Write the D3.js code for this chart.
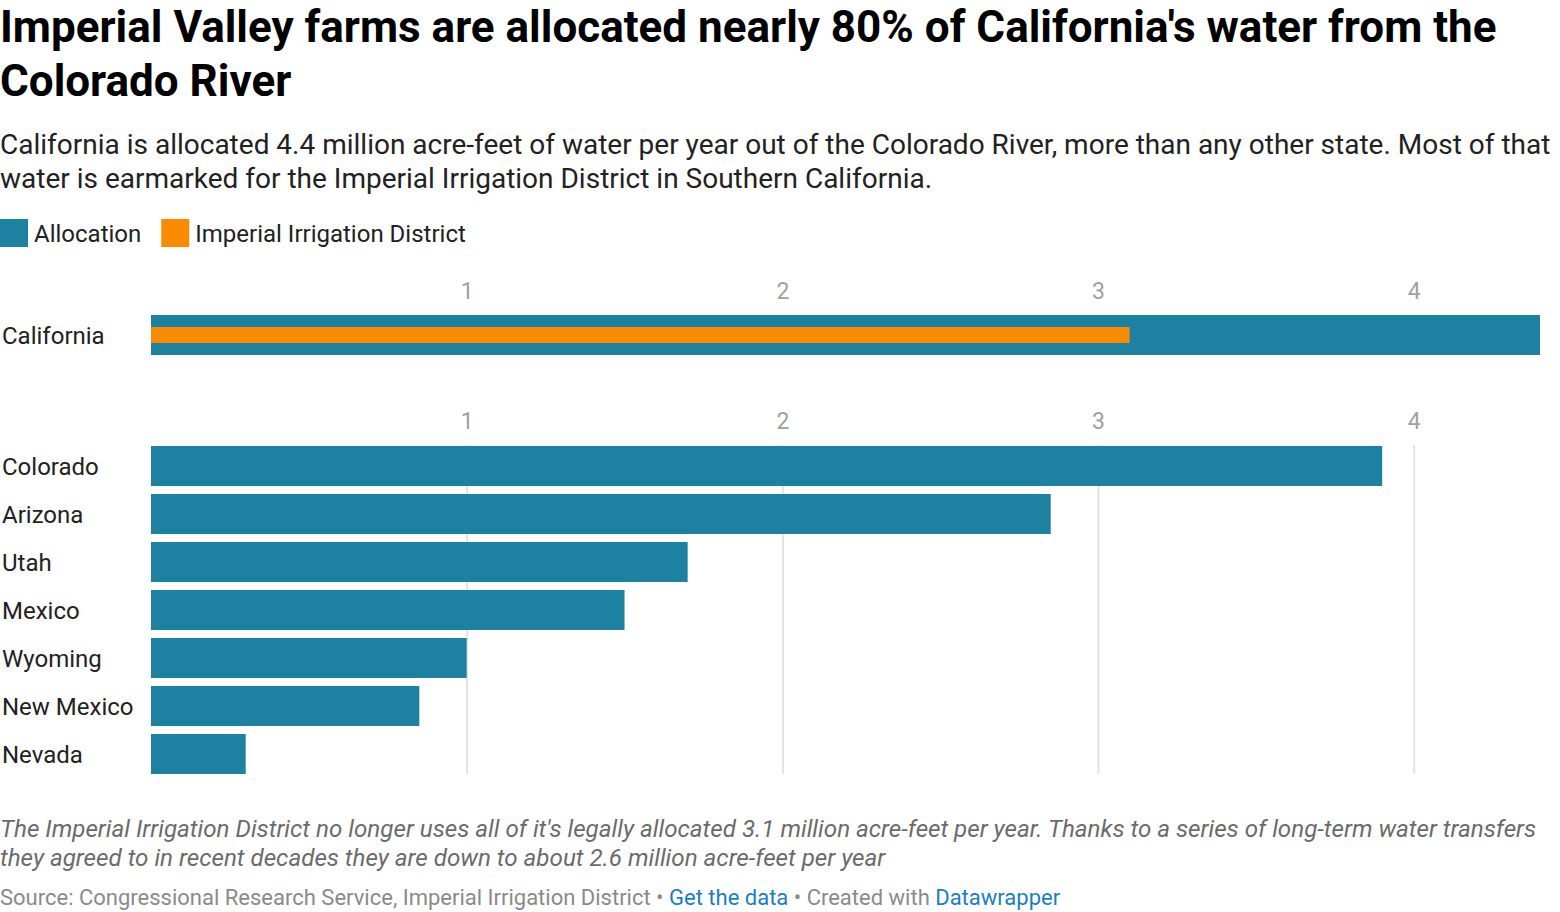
<!DOCTYPE html>
<html>
<head>
<meta charset="utf-8">
<script src="https://cdn.jsdelivr.net/npm/d3@7"></script>
<style>
  body { margin: 0; background: #fff; }
  svg { display: block; font-family: Roboto, "Noto Sans", sans-serif; }
</style>
</head>
<body>
<svg id="chart" width="1560" height="912"></svg>
<script>
// data (million acre-feet per year)
const topCategories = ["California"];
const topAllocation = [4.4];
const topIID = [3.1];

const categories = ["Colorado", "Arizona", "Utah", "Mexico", "Wyoming", "New Mexico", "Nevada"];
const allocation = [3.9, 2.85, 1.7, 1.5, 1.0, 0.85, 0.3];

const tickValues = [1, 2, 3, 4];
const legendLabels = ["Allocation", "Imperial Irrigation District"];

const titleLines = [
  "Imperial Valley farms are allocated nearly 80% of California's water from the",
  "Colorado River"
];
const subtitleLines = [
  "California is allocated 4.4 million acre-feet of water per year out of the Colorado River, more than any other state. Most of that",
  "water is earmarked for the Imperial Irrigation District in Southern California."
];
const noteLines = [
  "The Imperial Irrigation District no longer uses all of it's legally allocated 3.1 million acre-feet per year. Thanks to a series of long-term water transfers",
  "they agreed to in recent decades they are down to about 2.6 million acre-feet per year"
];

const teal = "#1d81a2", orange = "#f98b00";

document.addEventListener('DOMContentLoaded', () => {
  const svg = d3.select("#chart");

  // header
  svg.append("g").selectAll("text")
     .data(titleLines)
    .enter().append("text")
     .attr("x", 0)
     .attr("y", (d, i) => 42 + i * 54)
     .attr("font-size", 44)
     .attr("font-weight", 700)
     .attr("fill", "#000")
     .text(d => d);

  svg.append("g").selectAll("text")
     .data(subtitleLines)
    .enter().append("text")
     .attr("x", 0)
     .attr("y", (d, i) => 154 + i * 34)
     .attr("font-size", 28)
     .attr("fill", "#222")
     .text(d => d);

  // legend
  let lx = 0;
  legendLabels.forEach((lab, i) => {
    const g = svg.append("g").attr("transform", `translate(${lx},219)`);
    g.append("rect").attr("width", 28).attr("height", 28).attr("fill", i ? orange : teal);
    const t = g.append("text").attr("x", 34).attr("y", 23).attr("font-size", 24)
               .attr("fill", "#222").text(lab);
    lx += 34 + t.node().getComputedTextLength() + 20;
  });

  const x = d3.scaleLinear().domain([0, 4.4]).range([151, 1540]);
  const fmt = d3.format("d");

  // top panel: California
  svg.append("g")
     .attr("transform", "translate(0,299)")
     .call(d3.axisTop(x).tickValues(tickValues).tickFormat(fmt).tickSize(0).tickPadding(0))
     .call(g => g.select(".domain").remove())
     .call(g => g.selectAll("text").attr("font-size", 23).attr("fill", "#a0a0a0")
                  .attr("font-family", "Roboto"));

  const yTop = d3.scaleBand().domain(topCategories).range([311, 359]).paddingInner(1/6).paddingOuter(1/12);

  svg.append("g").selectAll("rect")
     .data(topCategories)
    .enter().append("rect")
     .attr("x", x(0))
     .attr("y", d => yTop(d))
     .attr("width", (d, i) => x(topAllocation[i]) - x(0))
     .attr("height", yTop.bandwidth())
     .attr("fill", teal);

  svg.append("g").selectAll("rect")
     .data(topCategories)
    .enter().append("rect")
     .attr("x", x(0))
     .attr("y", d => yTop(d) + yTop.bandwidth() * 0.3)
     .attr("width", (d, i) => x(topIID[i]) - x(0))
     .attr("height", yTop.bandwidth() * 0.4)
     .attr("fill", orange);

  svg.append("g").selectAll("text")
     .data(topCategories)
    .enter().append("text")
     .attr("x", 2)
     .attr("y", d => yTop(d) + yTop.bandwidth() / 2 + 1)
     .attr("dy", "0.35em")
     .attr("font-size", 24)
     .attr("fill", "#222")
     .text(d => d);

  // bottom panel: other states
  const y = d3.scaleBand().domain(categories).range([442, 778]).paddingInner(1/6).paddingOuter(1/12);

  svg.append("g")
     .attr("transform", "translate(0,429)")
     .call(d3.axisTop(x).tickValues(tickValues).tickFormat(fmt).tickSize(0).tickPadding(0))
     .call(g => g.select(".domain").remove())
     .call(g => g.selectAll("text").attr("font-size", 23).attr("fill", "#a0a0a0")
                  .attr("font-family", "Roboto"));

  svg.append("g")
     .attr("transform", "translate(0,774)")
     .call(d3.axisBottom(x).tickValues(tickValues).tickSize(-329).tickFormat(""))
     .call(g => g.select(".domain").remove())
     .call(g => g.selectAll("line").attr("stroke", "#e3e3e3").attr("stroke-width", 2));

  svg.append("g").selectAll("rect")
     .data(categories)
    .enter().append("rect")
     .attr("x", x(0))
     .attr("y", d => y(d))
     .attr("width", (d, i) => x(allocation[i]) - x(0))
     .attr("height", y.bandwidth())
     .attr("fill", teal);

  svg.append("g").selectAll("text")
     .data(categories)
    .enter().append("text")
     .attr("x", 2)
     .attr("y", d => y(d) + y.bandwidth() / 2 + 1)
     .attr("dy", "0.35em")
     .attr("font-size", 24)
     .attr("fill", "#222")
     .text(d => d);

  // notes and source
  svg.append("g").selectAll("text")
     .data(noteLines)
    .enter().append("text")
     .attr("x", 0)
     .attr("y", (d, i) => 837 + i * 29)
     .attr("font-size", 24.2)
     .attr("font-style", "italic")
     .attr("fill", "#6b6b6b")
     .text(d => d);

  const src = svg.append("text").attr("x", 0).attr("y", 905).attr("font-size", 22).attr("fill", "#8a8a8a");
  src.append("tspan").text("Source: Congressional Research Service, Imperial Irrigation District • ");
  src.append("tspan").attr("fill", "#1a7ec2").text("Get the data");
  src.append("tspan").text(" • Created with ");
  src.append("tspan").attr("fill", "#1a7ec2").text("Datawrapper");
});
</script>
</body>
</html>
